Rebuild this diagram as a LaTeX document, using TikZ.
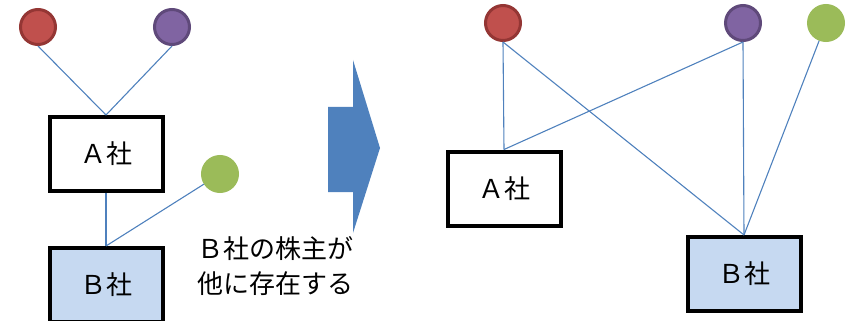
\documentclass[tikz,border=0pt]{standalone}
\usepackage{fontspec}
\setmainfont{Noto Sans CJK JP}
\definecolor{linkblue}{HTML}{4F81BD}
\definecolor{boxblue}{HTML}{C6D9F1}
\definecolor{redfill}{HTML}{C0504D}
\definecolor{redline}{HTML}{943634}
\definecolor{purplefill}{HTML}{8064A2}
\definecolor{purpleline}{HTML}{5F497A}
\definecolor{greenfill}{HTML}{9BBB59}
\begin{document}
\begin{tikzpicture}[x=1pt,y=-1pt,
        company/.style = {draw, line width=4pt, minimum width=113pt, minimum height=74pt, inner sep=0pt,
            font=\fontsize{26}{30}\selectfont},
        holder/.style = {circle, line width=3pt, minimum size=35pt, inner sep=0pt},
        link/.style = {draw=linkblue, line width=1.1pt}]
        \useasboundingbox (0,0) rectangle (852,321);
        \node[holder, fill=redfill, draw=redline] (r1) at (38,27) {};
        \node[holder, fill=purplefill, draw=purpleline] (p1) at (172,27) {};
        \node[holder, fill=greenfill, draw=greenfill] (g1) at (220,174) {};
        \node[company] (a1) at (106,154) {Ａ社};
        \node[company, fill=boxblue] (b1) at (106,285) {Ｂ社};
        \draw[link] (r1.south) -- (a1.north);
        \draw[link] (p1.south) -- (a1.north);
        \draw[link] (a1.south) -- (b1.north);
        \draw[link] (g1) -- (b1.north);
        \node[anchor=west, align=left, inner sep=0pt, font=\fontsize{26}{35}\selectfont] (note) at (197,266)
            {Ｂ社の株主が\\他に存在する};
        \fill[linkblue] (328,107) -- (353,107) -- (353,60) -- (380,148) -- (353,233) -- (353,192) -- (328,192) -- cycle;
        \node[holder, fill=redfill, draw=redline] (r2) at (503,23) {};
        \node[holder, fill=purplefill, draw=purpleline] (p2) at (743,23) {};
        \node[holder, fill=greenfill, draw=greenfill] (g2) at (826,23) {};
        \node[company] (a2) at (504,188.5) {Ａ社};
        \node[company, fill=boxblue] (b2) at (744,274) {Ｂ社};
        \draw[link] (r2.south) -- (a2.north);
        \draw[link] (r2.south) -- (b2.north);
        \draw[link] (p2.south) -- (a2.north);
        \draw[link] (p2.south) -- (b2.north);
        \draw[link] (g2) -- (b2.north);
\end{tikzpicture}
\end{document}
